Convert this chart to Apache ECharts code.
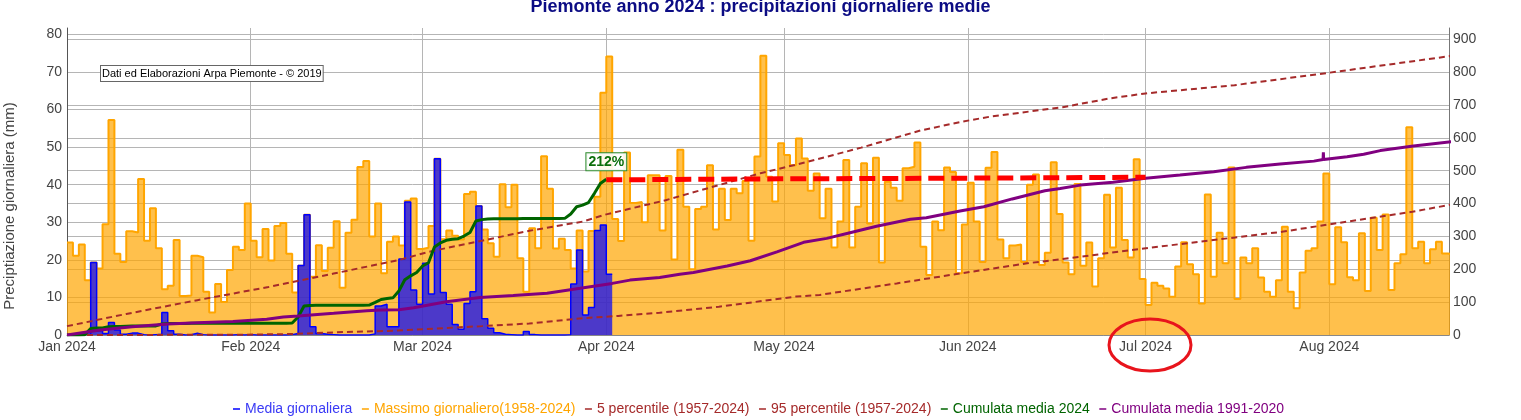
<!DOCTYPE html>
<html>
<head>
<meta charset="utf-8">
<script src="https://cdn.jsdelivr.net/npm/echarts@6/dist/echarts.min.js"></script>
<style>
html, body { margin: 0; padding: 0; background: #fff; }
#chart { width: 1521px; height: 420px; }
</style>
</head>
<body>
<div id="chart"></div>
<script>
// giorni dall'1 gennaio 2024 (0 = 1 gen)
var monthTicks = [0, 31, 60, 91, 121, 152, 182, 213];
var monthLabels = ['Jan 2024', 'Feb 2024', 'Mar 2024', 'Apr 2024', 'May 2024', 'Jun 2024', 'Jul 2024', 'Aug 2024'];

// massimo giornaliero 1958-2024 (mm), un valore per giorno
var maxDaily = [
    24.6, 21.1, 24.1, 14.6, 19.3, 17.7, 29.5, 57.2, 21.6, 19.4,
    27.6, 27.3, 41.5, 25.1, 33.7, 23.1, 12.2, 13.1, 25.3, 10.4,
    10.5, 21.1, 20.7, 11.5, 6.0, 13.6, 8.8, 17.3, 23.5, 22.6,
    35.0, 25.1, 20.7, 28.2, 19.8, 29.0, 29.8, 21.6, 11.3, 18.4,
    32.0, 15.5, 23.9, 17.0, 23.2, 30.3, 12.6, 27.2, 30.7, 44.7,
    46.3, 26.2, 35.0, 16.4, 24.8, 26.2, 23.8, 35.7, 36.3, 22.9,
    23.2, 29.0, 46.9, 25.5, 27.8, 26.4, 25.4, 37.5, 38.1, 34.3,
    28.1, 24.4, 20.8, 40.1, 34.0, 40.0, 20.4, 11.5, 28.4, 23.1,
    47.6, 38.9, 23.0, 25.6, 22.6, 17.7, 27.8, 16.9, 27.7, 36.8,
    64.5, 74.1, 30.9, 25.0, 48.6, 35.1, 35.4, 30.0, 42.5, 42.5,
    27.8, 42.3, 20.1, 49.3, 34.1, 17.5, 33.5, 34.1, 45.2, 28.1,
    38.9, 30.6, 38.9, 37.7, 41.0, 25.1, 47.5, 74.3, 42.1, 35.5,
    51.0, 47.9, 45.2, 52.3, 47.0, 38.4, 43.0, 31.1, 38.9, 23.3,
    30.2, 46.6, 23.3, 34.1, 45.7, 29.7, 47.2, 19.3, 40.8, 39.2,
    35.7, 44.4, 44.8, 51.2, 23.5, 16.0, 30.2, 27.9, 44.6, 43.4,
    16.4, 29.4, 40.5, 30.2, 19.4, 44.5, 48.7, 25.4, 20.4, 23.8,
    24.1, 19.4, 40.0, 42.7, 18.6, 21.9, 46.0, 32.2, 19.3, 16.2,
    40.2, 18.4, 24.6, 12.9, 20.4, 37.3, 23.3, 39.2, 25.3, 20.6,
    46.8, 14.9, 8.0, 13.9, 13.1, 12.4, 10.2, 18.2, 24.7, 18.8,
    16.2, 8.4, 37.4, 15.5, 27.2, 19.1, 44.6, 9.6, 20.6, 19.1,
    23.1, 15.3, 11.5, 10.2, 14.6, 28.8, 11.5, 7.1, 16.6, 22.4,
    23.1, 30.2, 43.0, 13.5, 28.7, 24.7, 15.4, 14.6, 27.1, 11.7,
    31.2, 22.6, 32.1, 12.0, 19.1, 21.5, 55.3, 23.1, 24.8, 19.1,
    22.8, 24.8, 21.7, 21.4
];

// media giornaliera 2024 (mm)
var meanDaily = [
    0, 0, 0.2, 0.3, 19.3, 1.1, 0.4, 3.3, 1.3, 0.2,
    0.5, 0.5, 0.1, 0, 0.1, 0.2, 6.0, 1.1, 0.2, 0,
    0.1, 0.5, 0.1, 0, 0, 0, 0, 0, 0.1, 0,
    0.1, 0, 0, 0, 0, 0, 0, 0.1, 0.4, 18.5,
    32.0, 2.2, 0.4, 0.2, 0.1, 0, 0, 0, 0, 0,
    0, 0.3, 7.7, 8.2, 2.2, 2.2, 20.2, 35.4, 12.0, 8.2,
    19.1, 10.9, 46.9, 11.3, 8.2, 2.8, 1.5, 8.4, 11.5, 34.3,
    4.3, 1.8, 0.6, 0.2, 0.1, 0, 0, 0.9, 0.1, 0,
    0, 0, 0, 0, 0.1, 13.6, 22.6, 5.3, 7.3, 27.8,
    29.3, 16.2
];

// cumulata media 2024 (mm)
var cum2024 = [
    0, 0, 0.2, 0.5, 20, 21, 21.5, 25, 26, 26.2,
    26.7, 27.2, 27.3, 27.3, 27.4, 27.6, 33.6, 34.7, 34.9, 34.9,
    35.0, 35.5, 35.6, 35.6, 35.6, 35.6, 35.6, 35.6, 35.7, 35.7,
    35.8, 35.8, 35.8, 35.8, 35.8, 35.8, 35.8, 35.9, 36.3, 55,
    88, 90, 90.5, 90.7, 90.8, 90.8, 90.8, 90.8, 90.8, 90.8,
    90.8, 91.1, 99, 108, 111, 113, 134, 168, 180, 190,
    210, 220, 268, 280, 288, 291, 293, 301, 312, 347,
    351, 353, 353.5, 353.7, 353.8, 353.8, 353.8, 354.7, 354.8, 354.8,
    354.8, 354.8, 354.8, 354.8, 354.9, 368, 390, 395, 403, 431,
    461, 474
];
var cumPercent = '212%';

// cumulata media 1991-2020 (mm)
var climDays = [0, 5.6, 11, 17, 22, 28, 33.7, 36.5, 39, 45, 50.6, 53, 56, 58.5, 64, 69.7, 75.3, 81, 86.6, 92, 95, 100, 103.4, 105.7, 111.4, 115.3, 119.8, 124.3, 128.2, 131.6, 136.6, 142.3, 145, 150.7, 154.7, 159.5, 165, 167.6, 171, 176.5, 182, 187.8, 193.5, 199, 204.7, 210.4, 211.95, 212, 212.05, 216, 218.8, 221.6, 227.2, 234];
var climVals = [0, 15, 25, 33.5, 37.5, 41, 48, 55, 58, 66, 74, 76, 77, 83, 101, 114, 120, 127, 142, 157, 167, 175, 185, 190, 210, 226, 253, 282, 294, 309, 331, 352, 357, 377, 390, 414, 439, 446, 456, 465, 477, 487, 497, 510, 520, 529, 534, 556, 534, 542, 550, 561, 575, 589];

// 5 e 95 percentile (1957-2024), cumulata (mm)
var p5Days = [0, 20, 30, 38, 45, 55, 70, 78, 87, 93, 100, 110, 123, 127, 140, 151, 162, 171, 176, 188, 205, 216, 227, 234];
var p5Vals = [0, 0.5, 1, 3, 8, 13, 27, 35, 51, 58, 68, 86, 117, 122, 157, 188, 218, 238, 250, 277, 314, 345, 375, 398];
var p95Days = [0, 10, 22, 34, 45, 56, 61, 78, 87, 91, 101, 117, 125, 134, 144, 151, 156, 168, 176, 182, 197, 213, 234];
var p95Vals = [27, 64, 106, 146, 187, 228, 253, 317, 345, 367, 410, 492, 527, 570, 622, 649, 665, 693, 720, 735, 760, 798, 850];

// tratto rosso (prosecuzione cumulata 2024)
var trendDays = [91, 120, 150, 182];
var trendVals = [472, 475, 477, 480];

var fontFam = "Arial, 'Liberation Sans', sans-serif";

function pairs(xs, ys) {
    return xs.map(function (x, i) { return [x, ys[i]]; });
}
function steps(vals) {
    var d = vals.map(function (v, i) { return [i, v]; });
    d.push([vals.length, vals[vals.length - 1]]);
    return d;
}

var lastCum = cum2024.length - 1;

var myChart = echarts.init(document.getElementById('chart'));

var option = {
    backgroundColor: '#fff',
    animation: false,
    textStyle: { fontFamily: fontFam },
    title: {
        text: 'Piemonte anno 2024 : precipitazioni giornaliere medie',
        left: 'center',
        top: -7,
        textStyle: { fontSize: 18, fontWeight: 'bold', color: '#0c0c84', fontFamily: fontFam }
    },
    legend: {
        top: 397,
        left: 228,
        icon: 'rect',
        itemWidth: 7,
        itemHeight: 1.5,
        itemGap: 9.5,
        textStyle: { fontSize: 14, fontFamily: fontFam },
        data: [
            { name: 'Media giornaliera', textStyle: { color: '#3a3af5' } },
            { name: 'Massimo giornaliero(1958-2024)', textStyle: { color: '#FFA500' } },
            { name: '5 percentile (1957-2024)', textStyle: { color: '#A52A2A' } },
            { name: '95 percentile (1957-2024)', textStyle: { color: '#A52A2A' } },
            { name: 'Cumulata media 2024', textStyle: { color: '#006400' } },
            { name: 'Cumulata media 1991-2020', textStyle: { color: '#800080' } }
        ]
    },
    grid: { left: 67, right: 72, top: 28, bottom: 85, outerBoundsMode: 'none', containLabel: false },
    xAxis: {
        type: 'value',
        min: 0,
        max: 233.2,
        axisLine: { show: true, lineStyle: { color: '#888' } },
        axisTick: { show: false, customValues: monthTicks },
        axisLabel: {
            customValues: monthTicks,
            color: '#444',
            fontSize: 14,
            margin: 5,
            formatter: function (v) {
                var k = monthTicks.indexOf(v);
                return k >= 0 ? monthLabels[k] : '';
            }
        },
        splitLine: { show: true, lineStyle: { color: '#b5b5b5' } }
    },
    yAxis: [{
        type: 'value',
        min: 0,
        max: 81.7,
        interval: 10,
        axisLine: { show: true, lineStyle: { color: '#555' } },
        axisTick: { show: false },
        axisLabel: {
            color: '#444', fontSize: 14, margin: 5, showMaxLabel: false,
            formatter: function (v) { return v % 10 === 0 ? v : ''; }
        },
        splitLine: { show: true, showMaxLine: false, lineStyle: { color: '#b5b5b5' } }
    }, {
        type: 'value',
        min: 0,
        max: 934,
        interval: 100,
        position: 'right',
        axisLine: { show: true, lineStyle: { color: '#777' } },
        axisTick: { show: false },
        axisLabel: {
            color: '#444', fontSize: 14, margin: 4, showMaxLabel: false,
            formatter: function (v) { return v % 100 === 0 ? v : ''; }
        },
        splitLine: { show: true, showMaxLine: false, lineStyle: { color: '#b5b5b5' } }
    }],
    series: [{
        name: 'Massimo giornaliero(1958-2024)',
        type: 'line',
        step: 'end',
        yAxisIndex: 0,
        symbol: 'none',
        lineStyle: { color: '#FFA500', width: 2 },
        itemStyle: { color: '#FFA500' },
        areaStyle: { color: 'rgba(255,165,0,0.7)', opacity: 1 },
        data: steps(maxDaily),
        z: 2
    }, {
        name: 'Media giornaliera',
        type: 'line',
        step: 'end',
        yAxisIndex: 0,
        symbol: 'none',
        lineStyle: { color: '#0000FF', width: 1.5 },
        itemStyle: { color: '#0000FF' },
        areaStyle: { color: 'rgba(0,0,255,0.7)', opacity: 1 },
        data: steps(meanDaily),
        z: 3
    }, {
        name: '5 percentile (1957-2024)',
        type: 'line',
        yAxisIndex: 1,
        symbol: 'none',
        lineStyle: { color: '#A52A2A', width: 2, type: [6, 4] },
        itemStyle: { color: '#A52A2A' },
        data: pairs(p5Days, p5Vals),
        z: 4
    }, {
        name: '95 percentile (1957-2024)',
        type: 'line',
        yAxisIndex: 1,
        symbol: 'none',
        lineStyle: { color: '#A52A2A', width: 2, type: [6, 4] },
        itemStyle: { color: '#A52A2A' },
        data: pairs(p95Days, p95Vals),
        z: 4
    }, {
        name: 'Cumulata media 2024',
        type: 'line',
        yAxisIndex: 1,
        symbol: 'none',
        lineStyle: { color: '#006400', width: 3 },
        itemStyle: { color: '#006400' },
        data: cum2024.map(function (v, i) { return [i, v]; }),
        markPoint: {
            symbol: 'circle',
            symbolSize: 0,
            silent: true,
            data: [{
                coord: [lastCum, cum2024[lastCum]],
                label: {
                    show: true,
                    position: 'top',
                    distance: 9,
                    formatter: cumPercent,
                    color: '#0b6e0b',
                    fontWeight: 'bold',
                    fontSize: 14,
                    fontFamily: fontFam,
                    backgroundColor: 'rgba(255,255,255,0.9)',
                    borderColor: '#2e8b2e',
                    borderWidth: 1,
                    padding: [2, 2, 1, 2]
                }
            }]
        },
        z: 5
    }, {
        name: 'Cumulata media 1991-2020',
        type: 'line',
        yAxisIndex: 1,
        symbol: 'none',
        lineStyle: { color: '#800080', width: 3 },
        itemStyle: { color: '#800080' },
        data: pairs(climDays, climVals),
        z: 5
    }, {
        name: 'prosecuzione 2024',
        type: 'line',
        yAxisIndex: 1,
        symbol: 'none',
        lineStyle: { color: '#FF0000', width: 5, type: [16, 7] },
        itemStyle: { color: '#FF0000' },
        data: pairs(trendDays, trendVals),
        z: 6
    }],
    graphic: [{
        type: 'text',
        x: 10,
        y: 206,
        rotation: Math.PI / 2,
        style: {
            text: 'Preciptiazione giornaliera (mm)',
            fontSize: 15,
            fontFamily: fontFam,
            fill: '#444',
            align: 'center',
            verticalAlign: 'middle'
        }
    }, {
        type: 'text',
        left: 100,
        top: 65,
        z: 100,
        style: {
            text: 'Dati ed Elaborazioni Arpa Piemonte - © 2019',
            fontSize: 11,
            fontFamily: fontFam,
            fill: '#000',
            backgroundColor: '#fff',
            borderColor: '#666',
            borderWidth: 1,
            padding: [2, 1, 2, 1]
        }
    }, {
        type: 'ellipse',
        z: 100,
        shape: { cx: 1150, cy: 345, rx: 41, ry: 26 },
        style: { fill: 'none', stroke: '#e8141c', lineWidth: 3 }
    }]
};

myChart.setOption(option);
</script>
</body>
</html>
